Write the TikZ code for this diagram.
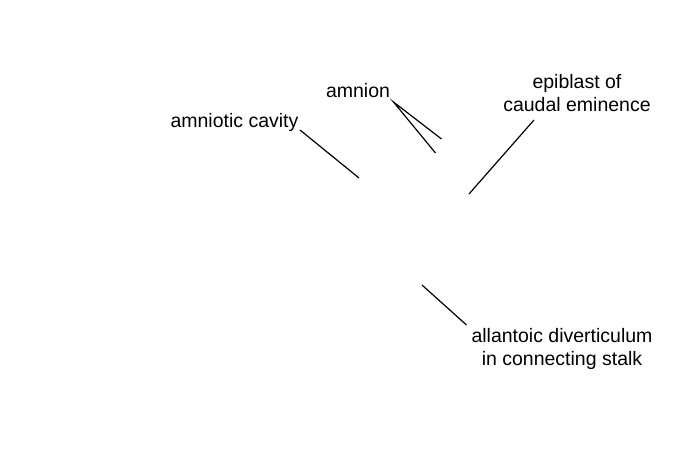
\documentclass[tikz,border=0pt]{standalone}
\usepackage{fontspec}
\setmainfont{Liberation Sans}
\tikzset{
    label/.style={inner sep=0pt,font=\fontsize{19.5}{22.5}\selectfont},
    leader/.style={line width=1.2pt,black}
}

\begin{document}
\begin{tikzpicture}[x=1pt,y=-1pt]
    \useasboundingbox (0,0) rectangle (675,450); % keeps the page size

    \node[label,anchor=base] (cavity) at (234.5,127) {amniotic cavity};
    \node[label,anchor=base] (amnion) at (358,97) {amnion};
    \node[label,align=center] (epiblast) at (577,93) {epiblast of\\caudal eminence};
    \node[label,align=center] (allantois) at (562,349) {allantoic diverticulum\\in connecting stalk};

    \coordinate (cavityA) at (300,130);
    \coordinate (cavityB) at (359,178);
    \coordinate (amnionA) at (393.5,102);
    \coordinate (amnionB) at (441.5,139);
    \coordinate (amnionC) at (435.5,153);
    \coordinate (epiblastA) at (534,120);
    \coordinate (epiblastB) at (469,194);
    \coordinate (allantoisA) at (422,285);
    \coordinate (allantoisB) at (466.5,325);

    \draw[leader] (cavityA) -- (cavityB);
    \draw[leader] (amnionB) -- (amnionA) -- (amnionC);
    \draw[leader] (epiblastA) -- (epiblastB);
    \draw[leader] (allantoisA) -- (allantoisB);
\end{tikzpicture}
\end{document}
